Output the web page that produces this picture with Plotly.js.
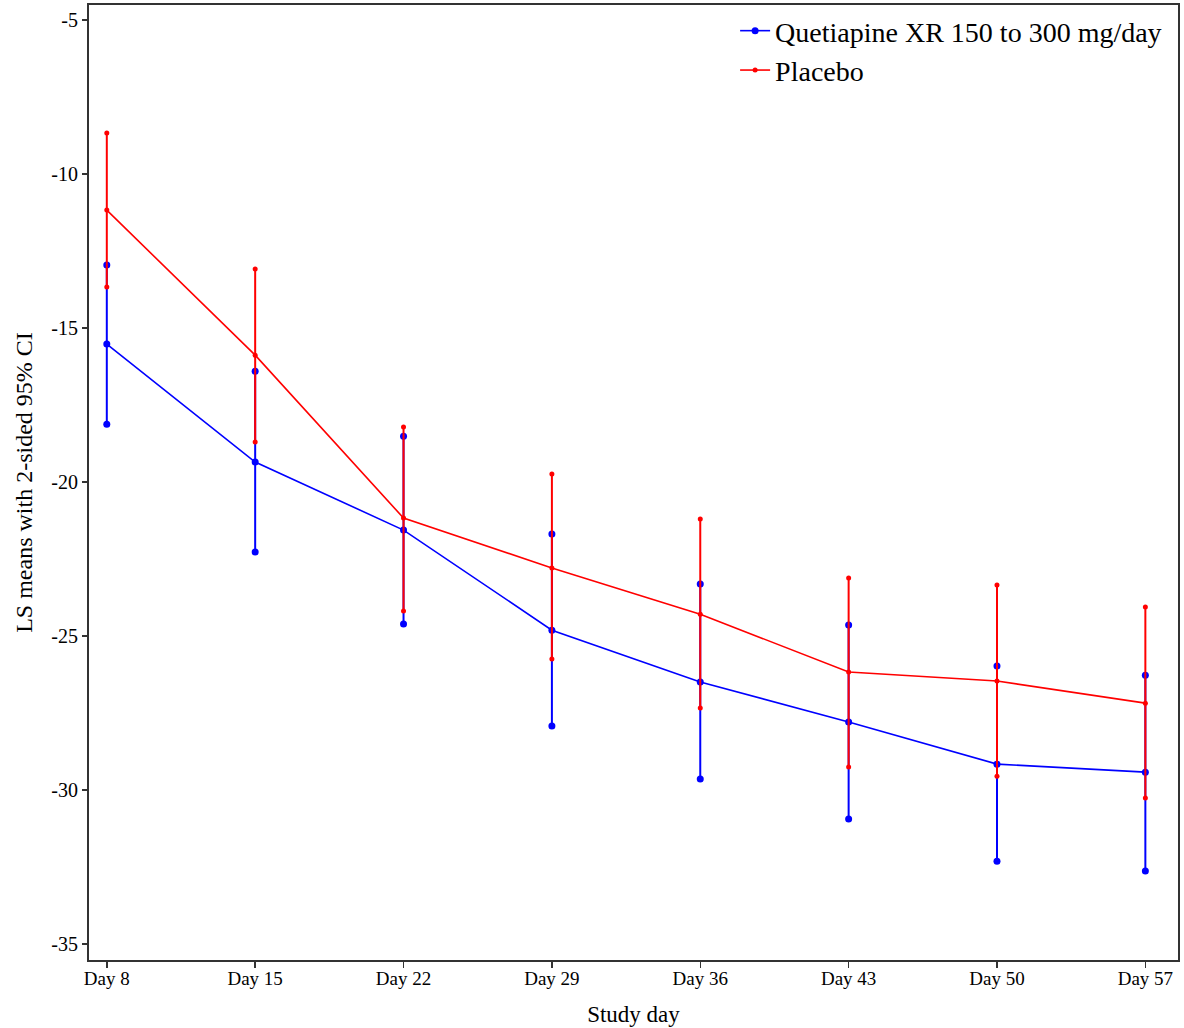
<!DOCTYPE html>
<html>
<head>
<meta charset="utf-8">
<script src="https://cdn.plot.ly/plotly-3.0.1.min.js"></script>
<style>html,body{margin:0;padding:0;background:#fff;}#chart{width:1184px;height:1028px;}</style>
</head>
<body>
<div id="chart"></div>
<script>
const days = ["Day 8", "Day 15", "Day 22", "Day 29", "Day 36", "Day 43", "Day 50", "Day 57"];

const quetMean  = [-15.52, -19.35, -21.56, -24.81, -26.49, -27.79, -29.16, -29.42];
const quetUpper = [-12.95, -16.40, -18.51, -21.69, -23.31, -24.64, -25.97, -26.27];
const quetLower = [-18.12, -22.27, -24.61, -27.92, -29.64, -30.94, -32.31, -32.63];

const placMean  = [-11.17, -15.88, -21.17, -22.79, -24.29, -26.17, -26.46, -27.18];
const placUpper = [-8.67, -13.08, -18.21, -19.74, -21.20, -23.12, -23.34, -24.06];
const placLower = [-13.67, -18.70, -24.19, -25.75, -27.34, -29.25, -29.55, -30.26];

const seriesNames = ["Quetiapine XR 150 to 300 mg/day", "Placebo"];
const yTicks = [-5, -10, -15, -20, -25, -30, -35];

const BLUE = "#0000ff", RED = "#ff0000";

function sub(a, b) { return a.map((v, i) => v - b[i]); }

const traces = [
  {
    x: days, y: quetMean, name: seriesNames[0], type: "scatter", mode: "lines+markers",
    line: {color: BLUE, width: 1.6}, marker: {color: BLUE, size: 7},
    error_y: {type: "data", symmetric: false, array: sub(quetUpper, quetMean), arrayminus: sub(quetMean, quetLower),
              color: BLUE, thickness: 2, width: 0}
  },
  {
    x: days.concat(days), y: quetUpper.concat(quetLower), type: "scatter", mode: "markers",
    marker: {color: BLUE, size: 7}, showlegend: false, hoverinfo: "skip"
  },
  {
    x: days, y: placMean, name: seriesNames[1], type: "scatter", mode: "lines+markers",
    line: {color: RED, width: 1.6}, marker: {color: RED, size: 5},
    error_y: {type: "data", symmetric: false, array: sub(placUpper, placMean), arrayminus: sub(placMean, placLower),
              color: RED, thickness: 2, width: 0}
  },
  {
    x: days.concat(days), y: placUpper.concat(placLower), type: "scatter", mode: "markers",
    marker: {color: RED, size: 5}, showlegend: false, hoverinfo: "skip"
  }
];

const FONT = "'Liberation Serif', 'Times New Roman', serif";

const layout = {
  width: 1184, height: 1028,
  margin: {l: 89, r: 6, t: 5, b: 68},
  paper_bgcolor: "#fff", plot_bgcolor: "#fff",
  font: {family: FONT, color: "#000", size: 19},
  showlegend: true,
  legend: {x: 0.99, xanchor: "right", y: 0.999, yanchor: "top", bgcolor: "rgba(0,0,0,0)",
           font: {family: FONT, size: 28, color: "#000"}, tracegroupgap: 0, itemwidth: 30},
  xaxis: {
    type: "category", categoryorder: "array", categoryarray: days,
    range: [-0.12, 7.22],
    showgrid: false, zeroline: false,
    showline: true, linecolor: "#333", linewidth: 2, mirror: true,
    ticks: "outside", ticklen: 6, tickwidth: 1.5, tickcolor: "#333",
    ticklabelstandoff: -6,
    tickfont: {family: FONT, size: 19},
    title: {text: "Study day", font: {family: FONT, size: 23}, standoff: 18}
  },
  yaxis: {
    range: [-35.52, -4.51],
    tickvals: yTicks, ticktext: yTicks.map(String),
    showgrid: false, zeroline: false,
    showline: true, linecolor: "#333", linewidth: 2, mirror: true,
    ticks: "outside", ticklen: 5, tickwidth: 1.5, tickcolor: "#333",
    tickfont: {family: FONT, size: 20},
    title: {text: "LS means with 2-sided 95% CI", font: {family: FONT, size: 24}, standoff: 12}
  }
};

Plotly.newPlot("chart", traces, layout, {displayModeBar: false, staticPlot: true});
</script>
</body>
</html>
